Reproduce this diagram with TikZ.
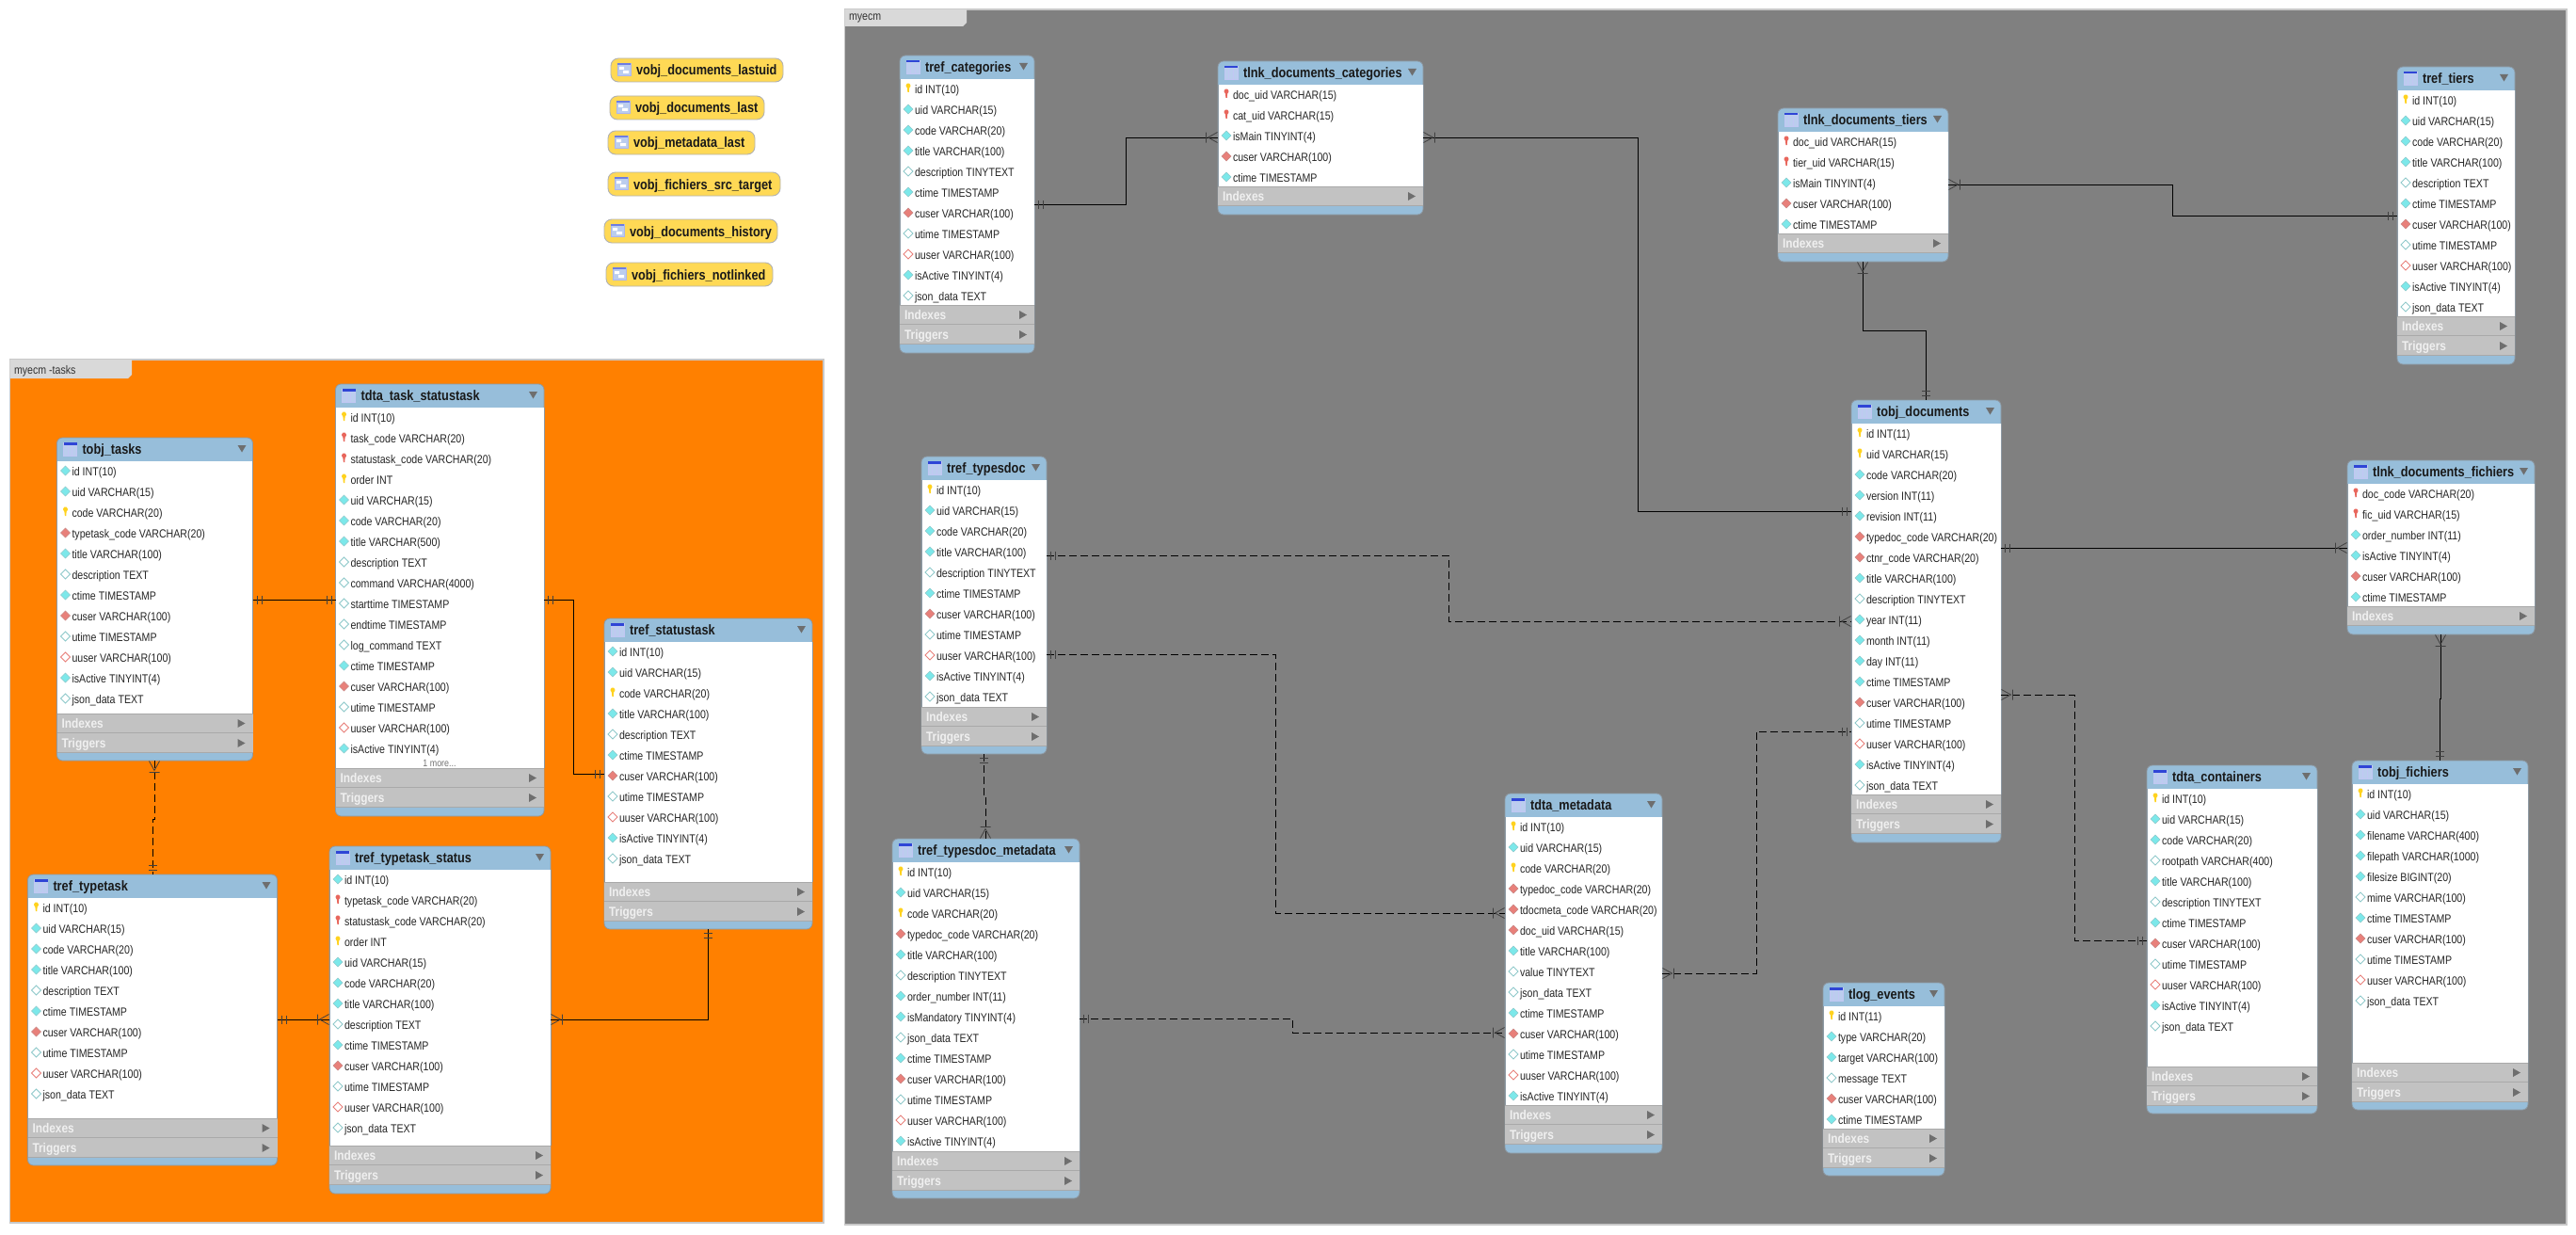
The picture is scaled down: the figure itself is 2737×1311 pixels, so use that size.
\documentclass[tikz,border=0pt]{standalone}
\usepackage{fontspec}
\usetikzlibrary{decorations.markings}
\newfontfamily\fldfont[FakeStretch=.85]{Liberation Sans}
\newfontfamily\hdrfont[FakeStretch=.85]{Liberation Sans}
\definecolor{hdrblue}{HTML}{97BEDA}
\definecolor{secgray}{HTML}{C2C2C2}
\definecolor{secline}{HTML}{A9A9A9}
\definecolor{secmark}{HTML}{6E6E6E}
\definecolor{edgegray}{HTML}{8E9AA4}
\definecolor{dcyan}{HTML}{7CE8EA}
\definecolor{dcyanb}{HTML}{8FC9CB}
\definecolor{dred}{HTML}{E8807A}
\definecolor{dredb}{HTML}{C98A88}
\definecolor{keyy}{HTML}{FFD21E}
\definecolor{keyr}{HTML}{E8665C}
\definecolor{panelo}{HTML}{FF8000}
\definecolor{panelg}{HTML}{808080}
\definecolor{panele}{HTML}{C8C8C8}
\definecolor{tabgray}{HTML}{D9D9D9}
\definecolor{viewy}{HTML}{FFD955}
\definecolor{iconb}{HTML}{2F45D6}
\definecolor{iconf}{HTML}{BBCDEE}
\tikzset{
  x=1pt,y=-1pt,
  tablebox/.style={draw=edgegray,line width=.8pt,fill=hdrblue,rounded corners=6pt,inner sep=0pt,outer sep=0pt},
  viewbox/.style={draw=black!30,line width=.9pt,fill=viewy,rounded corners=8pt,inner sep=0pt,outer sep=0pt},
  fieldtext/.style={anchor=base west,inner sep=0pt,outer sep=0pt,text=black!85,font=\fldfont\fontsize{12.5}{14}\selectfont},
  titletext/.style={anchor=base west,inner sep=0pt,outer sep=0pt,text=black!90,font=\hdrfont\bfseries\fontsize{15}{17}\selectfont},
  sectext/.style={anchor=base west,inner sep=0pt,outer sep=0pt,text=white!94!black,font=\hdrfont\bfseries\fontsize{14}{16}\selectfont},
  moretext/.style={inner sep=0pt,outer sep=0pt,text=black!55,font=\fldfont\fontsize{10.5}{12}\selectfont},
  paneltext/.style={anchor=base west,inner sep=0pt,outer sep=0pt,text=black!80,font=\fldfont\fontsize{12.5}{14}\selectfont},
  conn/.style={draw=black,line width=.9pt,line join=miter},
  fkdash/.style={dash pattern=on 8pt off 4pt},
  onestart/.style={postaction={decorate,decoration={markings,mark=at position .5pt with {\draw[solid,line width=.8pt,black!75] (4,-4.5)--(4,4.5) (9,-4.5)--(9,4.5);}}}},
  oneend/.style={postaction={decorate,decoration={markings,mark=at position -.5pt with {\draw[solid,line width=.8pt,black!75] (-4,-4.5)--(-4,4.5) (-9,-4.5)--(-9,4.5);}}}},
  manystart/.style={postaction={decorate,decoration={markings,mark=at position .5pt with {\draw[solid,line width=.8pt,black!75] (0,-5.5)--(10,0)--(0,5.5) (12,-5.5)--(12,5.5);}}}},
  manyend/.style={postaction={decorate,decoration={markings,mark=at position -.5pt with {\draw[solid,line width=.8pt,black!75] (0,-5.5)--(-10,0)--(0,5.5) (-12,-5.5)--(-12,5.5);}}}},
}
\newcommand\icona[2]{\path[fill=dcyan,draw=dcyanb,line width=.6pt] (#1,#2) +(0,-5) -- +(5,0) -- +(0,5) -- +(-5,0) -- cycle;}
\newcommand\icono[2]{\path[fill=white,draw=dcyanb,line width=.8pt] (#1,#2) +(0,-5) -- +(5,0) -- +(0,5) -- +(-5,0) -- cycle;}
\newcommand\iconf[2]{\path[fill=dred,draw=dredb,line width=.6pt] (#1,#2) +(0,-5) -- +(5,0) -- +(0,5) -- +(-5,0) -- cycle;}
\newcommand\icong[2]{\path[fill=white,draw=dred,line width=.8pt] (#1,#2) +(0,-5) -- +(5,0) -- +(0,5) -- +(-5,0) -- cycle;}
\newcommand\iconk[2]{\fill[keyy] (#1,#2) +(-2.4,-2.5) -- +(-2.4,-3.5) -- +(-1.2,-5.3) -- +(1.2,-5.3) -- +(2.4,-3.5) -- +(2.4,-2.2) -- +(1.1,-.5) -- +(.8,4) -- +(-.6,4) -- +(-1.1,-.5) -- cycle;}
\newcommand\iconr[2]{\fill[keyr] (#1,#2) +(-2.4,-2.5) -- +(-2.4,-3.5) -- +(-1.2,-5.3) -- +(1.2,-5.3) -- +(2.4,-3.5) -- +(2.4,-2.2) -- +(1.1,-.5) -- +(.8,4) -- +(-.6,4) -- +(-1.1,-.5) -- cycle;}
% id, title, xl, yt, xr, yb, index top, triggers?, rows
\newcommand\ertable[9]{%
  \begin{scope}
  \pgfmathsetmacro\erW{#5-#3}\pgfmathsetmacro\erH{#6-#4}%
  \pgfmathsetmacro\erCx{(#3+#5)/2}\pgfmathsetmacro\erCy{(#4+#6)/2}%
  \node[tablebox,minimum width=\erW pt,minimum height=\erH pt] (#1) at (\erCx,\erCy) {};
  \pgfmathsetmacro\erH{#4+25}%
  \fill[white] (#3,\erH) rectangle (#5,#7);
  \draw[edgegray,line width=.8pt] (#3,\erH) -- (#3,#7) (#5,\erH) -- (#5,#7);
  % table icon
  \fill[iconf] (#3+7,#4+5) rectangle (#3+21,#4+19);
  \draw[white!70!iconb,line width=.7pt] (#3+7,#4+5) rectangle (#3+21,#4+19) (#3+11.7,#4+8) -- (#3+11.7,#4+19) (#3+16.3,#4+8) -- (#3+16.3,#4+19);
  \fill[iconb] (#3+7,#4+5) rectangle (#3+21,#4+7.5);
  \node[titletext] (#1-title) at (#3+27,#4+17.5) {#2};
  \fill[secmark] (#5-16,#4+8) -- (#5-7,#4+8) -- (#5-11.5,#4+15.5) -- cycle;
  % sections
  \fill[secgray] (#3,#7) rectangle (#5,#7+20.5);
  \draw[secline,line width=.8pt] (#3,#7) -- (#5,#7) (#3,#7+20.8) -- (#5,#7+20.8);
  \node[sectext] (#1-indexes) at (#3+5,#7+15.5) {Indexes};
  \fill[secmark] (#5-16,#7+6) -- (#5-8,#7+10.5) -- (#5-16,#7+15) -- cycle;
  \ifnum#8=1
    \fill[secgray] (#3,#7+21) rectangle (#5,#7+41.5);
    \draw[secline,line width=.8pt] (#3,#7+41.8) -- (#5,#7+41.8);
    \node[sectext] (#1-triggers) at (#3+5,#7+36.5) {Triggers};
    \fill[secmark] (#5-16,#7+27) -- (#5-8,#7+31.5) -- (#5-16,#7+36) -- cycle;
  \fi
  \foreach \erT/\erS [count=\erI] in {#9} {
    \pgfmathsetmacro\erY{#4+36+22*(\erI-1)}%
    \pgfmathsetmacro\erIy{\erY-1}%
    \pgfmathsetmacro\erBy{\erY+4.5}%
    \pgfmathsetmacro\erIx{#3+9}%
    \csname icon\erT\endcsname{\erIx}{\erIy}
    \node[fieldtext] (#1-f\erI) at (#3+16,\erBy) {\erS};
  }
  \end{scope}
}
% id, title, xl, yt, xr, yb
\newcommand\erview[6]{%
  \begin{scope}
  \pgfmathsetmacro\erW{#5-#3}\pgfmathsetmacro\erH{#6-#4}%
  \pgfmathsetmacro\erCx{(#3+#5)/2}\pgfmathsetmacro\erCy{(#4+#6)/2}%
  \node[viewbox,minimum width=\erW pt,minimum height=\erH pt] (#1) at (\erCx,\erCy) {};
  \fill[iconf] (#3+7,#4+5) rectangle (#3+21,#4+18);
  \draw[white!60!iconb,line width=.7pt] (#3+7,#4+5) rectangle (#3+21,#4+18);
  \fill[white] (#3+9,#4+9) rectangle (#3+14,#4+12) (#3+13,#4+13) rectangle (#3+19,#4+16);
  \fill[iconb!70!white] (#3+7,#4+5) rectangle (#3+21,#4+7);
  \node[titletext] (#1-title) at (#3+27,#4+18) {#2};
  \end{scope}
}
\begin{document}
\begin{tikzpicture}
\useasboundingbox (0,0) rectangle (2737,1311);
\fill[white] (0,0) rectangle (2737,1311);
% panels
\path[fill=panelo,draw=panele,line width=1.2pt] (10.5,382) rectangle (875,1299);
\path[fill=tabgray] (10.5,382) -- (140,382) -- (140,398) -- (136,402) -- (10.5,402) -- cycle;
\node[paneltext] (tasklabel) at (15,397) {myecm -tasks};
\path[fill=panelg,draw=panele,line width=1.2pt] (897.5,10) rectangle (2727,1301);
\path[fill=tabgray] (897.5,10) -- (1027,10) -- (1027,24) -- (1023,28) -- (897.5,28) -- cycle;
\node[paneltext] (mainlabel) at (902,22) {myecm};
% views
\erview{v1}{vobj\_documents\_lastuid}{649}{62}{832}{87}
\erview{v2}{vobj\_documents\_last}{648}{102}{812}{127}
\erview{v3}{vobj\_metadata\_last}{646}{139}{802}{164}
\erview{v4}{vobj\_fichiers\_src\_target}{646}{183}{829}{208}
\erview{v5}{vobj\_documents\_history}{642}{233}{826}{258}
\erview{v6}{vobj\_fichiers\_notlinked}{644}{279}{821}{304}
% left panel tables
\ertable{tasks}{tobj\_tasks}{60.5}{465}{268.5}{808}{758}{1}{a/id INT(10),a/uid VARCHAR(15),k/code VARCHAR(20),f/typetask\_code VARCHAR(20),a/title VARCHAR(100),o/description TEXT,a/ctime TIMESTAMP,f/cuser VARCHAR(100),o/utime TIMESTAMP,g/uuser VARCHAR(100),a/isActive TINYINT(4),o/json\_data TEXT}
\ertable{taskstat}{tdta\_task\_statustask}{356.5}{408}{578}{867}{816}{1}{k/id INT(10),r/task\_code VARCHAR(20),r/statustask\_code VARCHAR(20),k/order INT,a/uid VARCHAR(15),a/code VARCHAR(20),a/title VARCHAR(500),o/description TEXT,o/command VARCHAR(4000),o/starttime TIMESTAMP,o/endtime TIMESTAMP,o/log\_command TEXT,a/ctime TIMESTAMP,f/cuser VARCHAR(100),o/utime TIMESTAMP,g/uuser VARCHAR(100),a/isActive TINYINT(4)}
\node[moretext] (taskstatmore) at (467,811) {1 more...};
\ertable{statustask}{tref\_statustask}{642}{657}{863}{987}{937}{1}{a/id INT(10),a/uid VARCHAR(15),k/code VARCHAR(20),a/title VARCHAR(100),o/description TEXT,a/ctime TIMESTAMP,f/cuser VARCHAR(100),o/utime TIMESTAMP,g/uuser VARCHAR(100),a/isActive TINYINT(4),o/json\_data TEXT}
\ertable{typetask}{tref\_typetask}{29.5}{929}{294.5}{1238}{1188}{1}{k/id INT(10),a/uid VARCHAR(15),a/code VARCHAR(20),a/title VARCHAR(100),o/description TEXT,a/ctime TIMESTAMP,f/cuser VARCHAR(100),o/utime TIMESTAMP,g/uuser VARCHAR(100),o/json\_data TEXT}
\ertable{typestat}{tref\_typetask\_status}{350}{899}{585}{1268}{1217}{1}{a/id INT(10),r/typetask\_code VARCHAR(20),r/statustask\_code VARCHAR(20),k/order INT,a/uid VARCHAR(15),a/code VARCHAR(20),a/title VARCHAR(100),o/description TEXT,a/ctime TIMESTAMP,f/cuser VARCHAR(100),o/utime TIMESTAMP,g/uuser VARCHAR(100),o/json\_data TEXT}
% right panel tables
\ertable{cats}{tref\_categories}{956}{59}{1099}{375}{324}{1}{k/id INT(10),a/uid VARCHAR(15),a/code VARCHAR(20),a/title VARCHAR(100),o/description TINYTEXT,a/ctime TIMESTAMP,f/cuser VARCHAR(100),o/utime TIMESTAMP,g/uuser VARCHAR(100),a/isActive TINYINT(4),o/json\_data TEXT}
\ertable{doccat}{tlnk\_documents\_categories}{1294}{65}{1512}{228}{198}{0}{r/doc\_uid VARCHAR(15),r/cat\_uid VARCHAR(15),a/isMain TINYINT(4),f/cuser VARCHAR(100),a/ctime TIMESTAMP}
\ertable{doctiers}{tlnk\_documents\_tiers}{1889}{115}{2070}{278}{248}{0}{r/doc\_uid VARCHAR(15),r/tier\_uid VARCHAR(15),a/isMain TINYINT(4),f/cuser VARCHAR(100),a/ctime TIMESTAMP}
\ertable{tiers}{tref\_tiers}{2547}{71}{2672}{387}{336}{1}{k/id INT(10),a/uid VARCHAR(15),a/code VARCHAR(20),a/title VARCHAR(100),o/description TEXT,a/ctime TIMESTAMP,f/cuser VARCHAR(100),o/utime TIMESTAMP,g/uuser VARCHAR(100),a/isActive TINYINT(4),o/json\_data TEXT}
\ertable{docs}{tobj\_documents}{1967}{425}{2126}{895}{844}{1}{k/id INT(11),k/uid VARCHAR(15),a/code VARCHAR(20),a/version INT(11),a/revision INT(11),f/typedoc\_code VARCHAR(20),f/ctnr\_code VARCHAR(20),a/title VARCHAR(100),o/description TINYTEXT,a/year INT(11),a/month INT(11),a/day INT(11),a/ctime TIMESTAMP,f/cuser VARCHAR(100),o/utime TIMESTAMP,g/uuser VARCHAR(100),a/isActive TINYINT(4),o/json\_data TEXT}
\ertable{docfic}{tlnk\_documents\_fichiers}{2494}{489}{2693}{674}{644}{0}{r/doc\_code VARCHAR(20),r/fic\_uid VARCHAR(15),a/order\_number INT(11),a/isActive TINYINT(4),f/cuser VARCHAR(100),a/ctime TIMESTAMP}
\ertable{fichiers}{tobj\_fichiers}{2499}{808}{2686}{1179}{1129}{1}{k/id INT(10),a/uid VARCHAR(15),a/filename VARCHAR(400),a/filepath VARCHAR(1000),a/filesize BIGINT(20),o/mime VARCHAR(100),a/ctime TIMESTAMP,f/cuser VARCHAR(100),o/utime TIMESTAMP,g/uuser VARCHAR(100),o/json\_data TEXT}
\ertable{ctnr}{tdta\_containers}{2281}{813}{2462}{1183}{1133}{1}{k/id INT(10),a/uid VARCHAR(15),a/code VARCHAR(20),o/rootpath VARCHAR(400),a/title VARCHAR(100),o/description TINYTEXT,a/ctime TIMESTAMP,f/cuser VARCHAR(100),o/utime TIMESTAMP,g/uuser VARCHAR(100),a/isActive TINYINT(4),o/json\_data TEXT}
\ertable{typedoc}{tref\_typesdoc}{979}{485}{1112}{801}{751}{1}{k/id INT(10),a/uid VARCHAR(15),a/code VARCHAR(20),a/title VARCHAR(100),o/description TINYTEXT,a/ctime TIMESTAMP,f/cuser VARCHAR(100),o/utime TIMESTAMP,g/uuser VARCHAR(100),a/isActive TINYINT(4),o/json\_data TEXT}
\ertable{typemeta}{tref\_typesdoc\_metadata}{948}{891}{1147}{1273}{1223}{1}{k/id INT(10),a/uid VARCHAR(15),k/code VARCHAR(20),f/typedoc\_code VARCHAR(20),a/title VARCHAR(100),o/description TINYTEXT,a/order\_number INT(11),a/isMandatory TINYINT(4),o/json\_data TEXT,a/ctime TIMESTAMP,f/cuser VARCHAR(100),o/utime TIMESTAMP,g/uuser VARCHAR(100),a/isActive TINYINT(4)}
\ertable{meta}{tdta\_metadata}{1599}{843}{1766}{1225}{1174}{1}{k/id INT(10),a/uid VARCHAR(15),k/code VARCHAR(20),f/typedoc\_code VARCHAR(20),f/tdocmeta\_code VARCHAR(20),f/doc\_uid VARCHAR(15),a/title VARCHAR(100),o/value TINYTEXT,o/json\_data TEXT,a/ctime TIMESTAMP,f/cuser VARCHAR(100),o/utime TIMESTAMP,g/uuser VARCHAR(100),a/isActive TINYINT(4)}
\ertable{events}{tlog\_events}{1937}{1044}{2066}{1249}{1199}{1}{k/id INT(11),a/type VARCHAR(20),a/target VARCHAR(100),o/message TEXT,f/cuser VARCHAR(100),a/ctime TIMESTAMP}
% connectors, left panel
\draw[conn,onestart,oneend] (tasks.east |- 0,637) -- (taskstat.west |- 0,637);
\draw[conn,onestart,oneend] (taskstat.east |- 0,637) -- (609,637) -- (609,822) -- (statustask.west |- 0,822);
\draw[conn,fkdash,manystart,oneend] (tasks.south -| 164,0) -- (164,870) -- (162,870) -- (typetask.north -| 162,0);
\draw[conn,onestart,manyend] (typetask.east |- 0,1083) -- (typestat.west |- 0,1083);
\draw[conn,manystart,oneend] (typestat.east |- 0,1083) -- (752,1083) -- (statustask.south -| 752,0);
% connectors, right panel
\draw[conn,onestart,manyend] (cats.east |- 0,217) -- (1196.5,217) -- (1196.5,146) -- (doccat.west |- 0,146);
\draw[conn,manystart,oneend] (doccat.east |- 0,146) -- (1740,146) -- (1740,543) -- (docs.west |- 0,543);
\draw[conn,manystart,oneend] (doctiers.east |- 0,196) -- (2308.5,196) -- (2308.5,229) -- (tiers.west |- 0,229);
\draw[conn,manystart,oneend] (doctiers.south -| 1979,0) -- (1979,351) -- (2046,351) -- (docs.north -| 2046,0);
\draw[conn,onestart,manyend] (docs.east |- 0,582) -- (docfic.west |- 0,582);
\draw[conn,manystart,oneend] (docfic.south -| 2593,0) -- (2593,742) -- (2592,742) -- (fichiers.north -| 2592,0);
\draw[conn,fkdash,manystart,oneend] (docs.east |- 0,738) -- (2204,738) -- (2204,999) -- (ctnr.west |- 0,999);
\draw[conn,fkdash,onestart,manyend] (typedoc.east |- 0,590) -- (1539,590) -- (1539,660) -- (docs.west |- 0,660);
\draw[conn,fkdash,onestart,manyend] (typedoc.east |- 0,695) -- (1355,695) -- (1355,970) -- (meta.west |- 0,970);
\draw[conn,fkdash,onestart,manyend] (typedoc.south -| 1045,0) -- (1045,847) -- (1047,847) -- (typemeta.north -| 1047,0);
\draw[conn,fkdash,onestart,manyend] (typemeta.east |- 0,1082) -- (1373,1082) -- (1373,1097) -- (meta.west |- 0,1097);
\draw[conn,fkdash,manystart,oneend] (meta.east |- 0,1034) -- (1866,1034) -- (1866,777) -- (docs.west |- 0,777);
\end{tikzpicture}
\end{document}
